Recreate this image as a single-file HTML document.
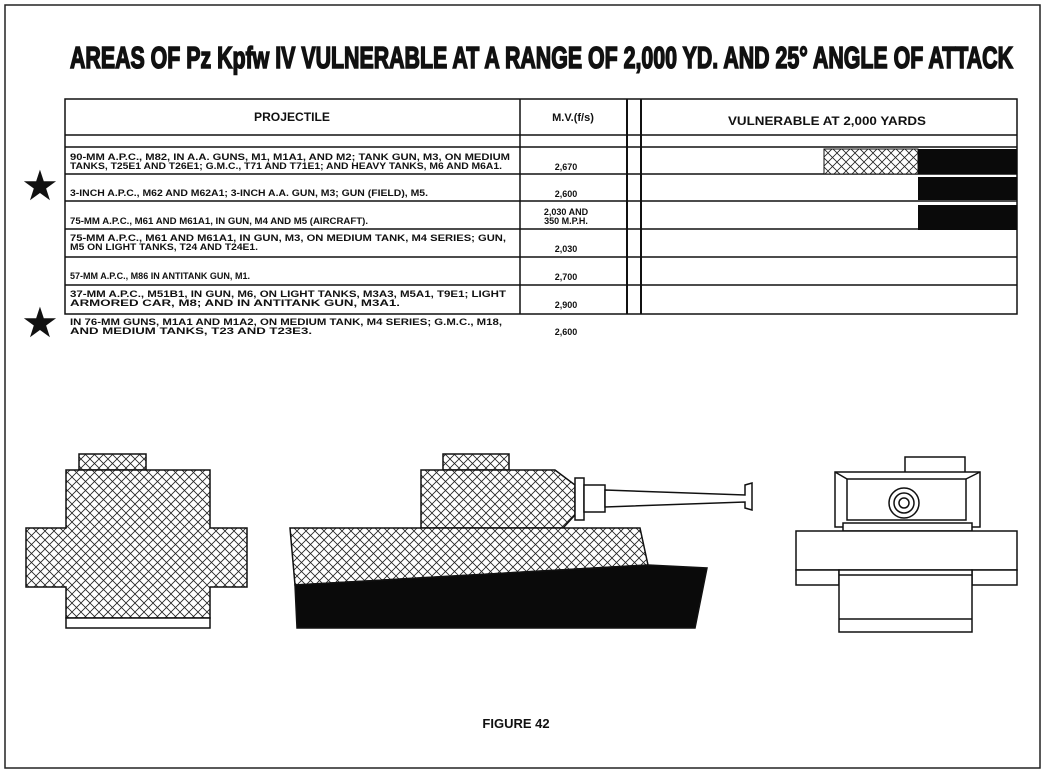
<!DOCTYPE html>
<html><head><meta charset="utf-8"><style>
html,body{margin:0;padding:0;background:#fff;}
svg{display:block;}
text{font-family:"Liberation Sans",sans-serif;fill:#111;}
.t{font-size:9px;font-weight:bold;}
</style></head><body>
<svg width="1048" height="775" viewBox="0 0 1048 775" xmlns="http://www.w3.org/2000/svg">
<defs>
<pattern id="h" width="9" height="9" patternUnits="userSpaceOnUse">
<rect width="9" height="9" fill="#fff"/>
<path d="M0 0L9 9M9 0L0 9" stroke="#222" stroke-width="0.8"/>
</pattern>
</defs>
<rect x="5" y="5" width="1035" height="763" fill="none" stroke="#222" stroke-width="1.5"/>
<text x="70" y="68" font-size="31" font-weight="bold" stroke="#111" stroke-width="1.6" textLength="943" lengthAdjust="spacingAndGlyphs">AREAS  OF  Pz  Kpfw  IV  VULNERABLE  AT  A  RANGE  OF  2,000  YD.  AND  25° ANGLE  OF  ATTACK</text>

<g stroke="#111" fill="none" stroke-width="1.5">
<rect x="65" y="99" width="952" height="215"/>
<line x1="520" y1="99" x2="520" y2="314"/>
<line x1="627" y1="99" x2="627" y2="314" stroke-width="2"/>
<line x1="641" y1="99" x2="641" y2="314" stroke-width="2"/>
<line x1="65" y1="135" x2="1017" y2="135"/>
<line x1="65" y1="147" x2="1017" y2="147"/>
<line x1="65" y1="174" x2="1017" y2="174"/>
<line x1="65" y1="201" x2="1017" y2="201"/>
<line x1="65" y1="229" x2="1017" y2="229"/>
<line x1="65" y1="257" x2="1017" y2="257"/>
<line x1="65" y1="285" x2="1017" y2="285"/>
</g>
<rect x="824" y="149" width="94" height="25" fill="url(#h)" stroke="#111"/>
<rect x="918" y="149" width="99" height="25" fill="#0a0a0a"/>
<rect x="918" y="177" width="99" height="23" fill="#0a0a0a"/>
<rect x="918" y="205" width="99" height="25" fill="#0a0a0a"/>

<text x="292" y="121" font-size="12" font-weight="bold" text-anchor="middle" textLength="76" lengthAdjust="spacingAndGlyphs">PROJECTILE</text>
<text x="573" y="121" font-size="11" font-weight="bold" text-anchor="middle">M.V.(f/s)</text>
<text x="827" y="125" font-size="12" font-weight="bold" text-anchor="middle" textLength="198" lengthAdjust="spacingAndGlyphs">VULNERABLE AT 2,000 YARDS</text>

<g class="t">
<text x="70" y="160" textLength="440" lengthAdjust="spacingAndGlyphs">90-MM A.P.C., M82, IN A.A. GUNS, M1, M1A1, AND M2; TANK GUN, M3, ON MEDIUM</text>
<text x="70" y="169" textLength="432" lengthAdjust="spacingAndGlyphs">TANKS, T25E1 AND T26E1; G.M.C., T71 AND T71E1; AND HEAVY TANKS, M6 AND M6A1.</text>
<text x="70" y="196" textLength="358" lengthAdjust="spacingAndGlyphs">3-INCH A.P.C., M62 AND M62A1; 3-INCH A.A. GUN, M3; GUN (FIELD), M5.</text>
<text x="70" y="224" textLength="298" lengthAdjust="spacingAndGlyphs">75-MM A.P.C., M61 AND M61A1, IN GUN, M4 AND M5 (AIRCRAFT).</text>
<text x="70" y="241" textLength="436" lengthAdjust="spacingAndGlyphs">75-MM A.P.C., M61 AND M61A1, IN GUN, M3, ON MEDIUM TANK, M4 SERIES; GUN,</text>
<text x="70" y="250" textLength="188" lengthAdjust="spacingAndGlyphs">M5 ON LIGHT TANKS, T24 AND T24E1.</text>
<text x="70" y="279" textLength="180" lengthAdjust="spacingAndGlyphs">57-MM A.P.C., M86 IN ANTITANK GUN, M1.</text>
<text x="70" y="297" textLength="436" lengthAdjust="spacingAndGlyphs">37-MM A.P.C., M51B1, IN GUN, M6, ON LIGHT TANKS, M3A3, M5A1, T9E1; LIGHT</text>
<text x="70" y="306" textLength="330" lengthAdjust="spacingAndGlyphs">ARMORED CAR, M8; AND IN ANTITANK GUN, M3A1.</text>
<text x="70" y="325" textLength="432" lengthAdjust="spacingAndGlyphs">IN 76-MM GUNS, M1A1 AND M1A2, ON MEDIUM TANK, M4 SERIES; G.M.C., M18,</text>
<text x="70" y="334" textLength="242" lengthAdjust="spacingAndGlyphs">AND MEDIUM TANKS, T23 AND T23E3.</text>
<g text-anchor="middle">
<text x="566" y="170">2,670</text>
<text x="566" y="197">2,600</text>
<text x="566" y="215">2,030 AND</text>
<text x="566" y="224">350 M.P.H.</text>
<text x="566" y="252">2,030</text>
<text x="566" y="280">2,700</text>
<text x="566" y="308">2,900</text>
<text x="566" y="335">2,600</text>
</g>
</g>
<text x="40" y="200" font-size="42" text-anchor="middle">★</text>
<text x="40" y="337" font-size="42" text-anchor="middle">★</text>

<!-- left front view -->
<g stroke="#111" stroke-width="1.5">
<rect x="79" y="454" width="67" height="16" fill="url(#h)"/>
<path d="M66 470H210V528H247V587H210V618H66V587H26V528H66Z" fill="url(#h)"/>
<rect x="66" y="618" width="144" height="10" fill="#fff"/>
</g>

<!-- middle side view -->
<g stroke="#111" stroke-width="1.5">
<rect x="443" y="454" width="66" height="16" fill="url(#h)"/>
<rect x="503" y="518" width="57" height="10" fill="url(#h)"/>
<path d="M421 470H555L575 485V515L563 528H421Z" fill="url(#h)"/>
<rect x="575" y="478" width="9" height="42" fill="#fff"/>
<rect x="584" y="485" width="21" height="27" fill="#fff"/>
<path d="M605 490L745 495V485L752 483V510L745 508V502L605 507Z" fill="#fff"/>
<path d="M290 528H640L648 565L295 585Z" fill="url(#h)"/>
<path d="M295 585L648 565L707 568L695 628H297Z" fill="#0a0a0a"/>
</g>

<!-- right rear view -->
<g stroke="#111" stroke-width="1.5" fill="#fff">
<rect x="905" y="457" width="60" height="16"/>
<rect x="835" y="472" width="145" height="55"/>
<rect x="847" y="479" width="119" height="41"/>
<path d="M835 472L847 479M980 472L966 479" fill="none"/>
<rect x="843" y="523" width="129" height="8"/>
<rect x="796" y="531" width="221" height="39"/>
<rect x="796" y="570" width="43" height="15"/>
<rect x="972" y="570" width="45" height="15"/>
<rect x="839" y="570" width="133" height="62"/>
<line x1="839" y1="619" x2="972" y2="619"/>
<line x1="839" y1="575" x2="972" y2="575"/>
<circle cx="904" cy="503" r="15"/>
<circle cx="904" cy="503" r="10"/>
<circle cx="904" cy="503" r="5"/>
</g>

<text x="516" y="728" font-size="13" font-weight="bold" text-anchor="middle">FIGURE 42</text>
</svg>
</body></html>
